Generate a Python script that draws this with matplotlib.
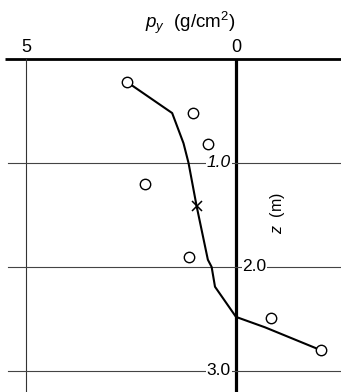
import matplotlib
matplotlib.use("Agg")
import matplotlib.pyplot as plt

plt.rcParams["font.family"] = ["Liberation Sans", "DejaVu Sans"]
plt.rcParams["mathtext.fontset"] = "custom"
plt.rcParams["mathtext.rm"] = "Liberation Sans"
plt.rcParams["mathtext.it"] = "Liberation Sans:italic"

# measured pressure p_y (g/cm^2) vs depth z (m)
obs_p = [2.6, 1.02, 0.67, 2.16, 1.11, -0.83, -2.02]
obs_z = [0.22, 0.52, 0.82, 1.20, 1.90, 2.49, 2.80]

# mean point
mean_p = [0.94]
mean_z = [1.41]

# fitted distribution curve
fit_p = [2.6, 1.52, 1.25, 1.13, 0.94, 0.67, 0.58, 0.50, 0.0, -0.69, -2.02]
fit_z = [0.22, 0.52, 0.81, 1.0, 1.41, 1.93, 2.0, 2.19, 2.48, 2.58, 2.80]

grid_z = [1.0, 2.0, 3.0]
grid_lbl = ["1.0", "2.0", "3.0"]

fig = plt.figure(figsize=(3.41, 3.92), dpi=100)
ax = fig.add_axes([0, 0, 1, 1])
ax.set_xlim(5.619, -2.5)
ax.set_ylim(3.202, -0.567)
ax.axis("off")

# frame: surface line, zero line and p=5 line
ax.plot([5.5, -2.5], [0, 0], color="black", lw=2.0, solid_capstyle="butt")
ax.plot([0, 0], [0, 3.3], color="black", lw=2.3, solid_capstyle="butt")
ax.plot([5, 5], [0, 3.3], color="#333333", lw=0.8)

for z, lbl in zip(grid_z, grid_lbl):
    ax.plot([5.43, -2.5], [z, z], color="#444444", lw=0.8)
    if lbl == "2.0":
        ax.text(-0.15, z, lbl, ha="left", va="center", fontsize=12.5,
                bbox=dict(fc="white", ec="none", pad=0.5))
    else:
        ax.text(0.12, z, lbl, ha="right", va="center", fontsize=12.5,
                style="italic" if lbl == "1.0" else "normal",
                bbox=dict(fc="white", ec="none", pad=0.5))

ax.text(5, -0.11, "5", ha="center", va="center", fontsize=13)
ax.text(0, -0.11, "0", ha="center", va="center", fontsize=13)
ax.text(1.1, -0.35, r"$p_y$  (g/cm$^2$)", ha="center", va="center", fontsize=13.5)
ax.text(-0.98, 1.48, r"$z$  (m)", ha="center", va="center", fontsize=11.5,
        rotation=90)

ax.plot(fit_p, fit_z, color="black", lw=1.5, zorder=3)
ax.plot(obs_p, obs_z, "o", ms=7.5, mfc="white", mec="black", mew=1.0,
        ls="none", zorder=4)
ax.plot(mean_p, mean_z, "x", ms=7.5, color="black", mew=1.1, zorder=4)

fig.savefig("out.png", dpi=100)
